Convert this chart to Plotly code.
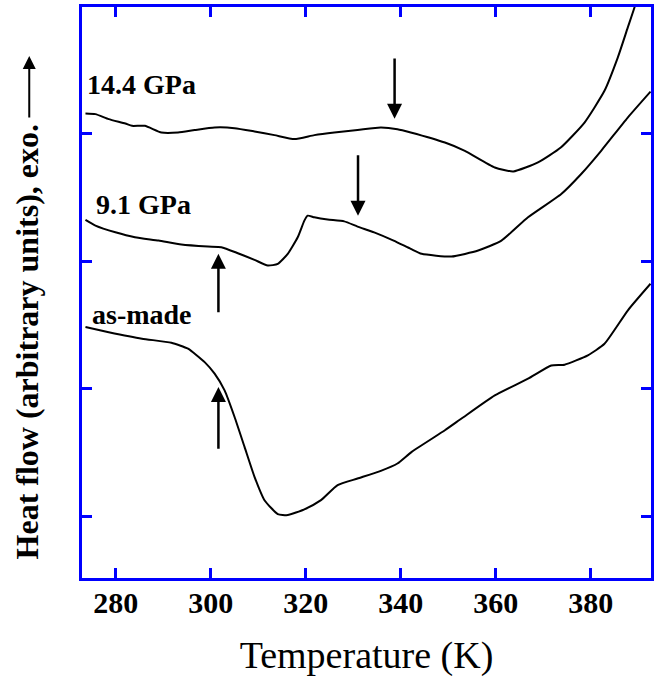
import plotly.graph_objects as go

# Temperature (K) and heat flow (arbitrary units, offset curves)
t_144 = [273.6, 275.7, 278.5, 282.0, 283.4, 286.1, 289.6, 293.1, 296.6, 300.8,
         305.0, 309.2, 313.4, 317.6, 321.8, 326.0, 330.9, 335.8, 339.3, 342.1,
         349.3, 353.5, 359.8, 363.7, 368.9, 373.7, 378.7, 382.9, 385.7, 387.8,
         389.2, 389.9]
hf_144 = [3.161, 3.156, 3.117, 3.082, 3.064, 3.064, 3.012, 3.012, 3.031, 3.051,
          3.046, 3.020, 2.991, 2.960, 2.991, 3.012, 3.031, 3.051, 3.038, 3.012,
          2.933, 2.868, 2.737, 2.706, 2.777, 2.894, 3.090, 3.339, 3.600, 3.835,
          3.991, 4.083]

t_91 = [273.6, 275.7, 279.9, 284.0, 289.0, 293.8, 299.4, 302.2, 305.7, 309.2,
        312.0, 314.1, 316.2, 318.3, 319.7, 320.4, 321.8, 324.6, 328.1, 330.9,
        334.4, 338.5, 342.1, 344.4, 350.7, 356.3, 361.2, 366.8, 373.8, 378.0,
        382.2, 387.8, 392.6]
hf_91 = [2.325, 2.281, 2.228, 2.189, 2.163, 2.132, 2.116, 2.111, 2.064, 2.012,
         1.967, 1.980, 2.059, 2.189, 2.320, 2.359, 2.346, 2.328, 2.314, 2.273,
         2.228, 2.163, 2.098, 2.059, 2.038, 2.085, 2.163, 2.346, 2.529, 2.686,
         2.868, 3.129, 3.333]

t_asm = [273.6, 278.5, 285.5, 291.7, 295.2, 298.7, 300.8, 302.9, 305.0, 307.1,
         309.2, 311.3, 314.1, 316.2, 319.7, 323.2, 326.7, 330.9, 335.8, 339.3,
         342.3, 349.3, 352.8, 359.8, 366.8, 371.7, 374.5, 379.4, 382.9, 387.8,
         392.6]
hf_asm = [1.484, 1.444, 1.393, 1.361, 1.314, 1.209, 1.118, 0.987, 0.778, 0.543,
          0.308, 0.125, 0.016, 0.008, 0.053, 0.125, 0.243, 0.295, 0.355, 0.413,
          0.504, 0.674, 0.766, 0.948, 1.079, 1.183, 1.189, 1.262, 1.353, 1.614,
          1.824]

# transition arrows: (temperature, tip value, tail value)
arrow_t = [338.7, 331.0, 301.6, 301.6]
arrow_tip = [3.119, 2.359, 2.059, 1.013]
arrow_tail = [3.605, 2.845, 1.589, 0.517]

x_ticks = [280, 300, 320, 340, 360, 380]
y_ticks = [0, 1, 2, 3]

BLUE = "#0000ff"
SERIF = "Liberation Serif, Times New Roman, serif"

fig = go.Figure()
for t, h, name in [(t_144, hf_144, "14.4 GPa"), (t_91, hf_91, "9.1 GPa"),
                   (t_asm, hf_asm, "as-made")]:
    fig.add_trace(go.Scatter(x=t, y=h, mode="lines", name=name,
                             line=dict(color="black", width=2,
                                       shape="spline", smoothing=0.5),
                             showlegend=False))

annotations = []
for t, tip, tail in zip(arrow_t, arrow_tip, arrow_tail):
    annotations.append(dict(x=t, y=tip, ax=t, ay=tail, xref="x", yref="y",
                            axref="x", ayref="y", text="", showarrow=True,
                            arrowhead=2, arrowsize=1.2, arrowwidth=2.5,
                            arrowcolor="black"))

label_font = dict(family=SERIF, size=28, color="black", weight="bold")
annotations += [
    dict(x=273.6, y=3.39, xref="x", yref="y", text="<b>14.4 GPa</b>",
         showarrow=False, xanchor="left", yanchor="middle", font=label_font),
    dict(x=275.4, y=2.445, xref="x", yref="y", text="<b>9.1 GPa</b>",
         showarrow=False, xanchor="left", yanchor="middle", font=label_font),
    dict(x=274.5, y=1.585, xref="x", yref="y", text="<b>as-made</b>",
         showarrow=False, xanchor="left", yanchor="middle", font=label_font),
    dict(x=-0.0962, y=0.413, xref="paper", yref="paper",
         text="<b>Heat flow (arbitrary units), exo.</b>", textangle=-90,
         showarrow=False, xanchor="center", yanchor="middle",
         font=dict(family=SERIF, size=32, color="black")),
    dict(x=-0.0927, y=0.9143, xref="paper", yref="paper", text="",
         showarrow=True, ax=0, ay=63, arrowhead=2, arrowsize=1.3,
         arrowwidth=2, arrowcolor="black"),
]

fig.update_layout(
    width=658, height=677,
    margin=dict(l=82, r=4, t=6, b=99),
    paper_bgcolor="white", plot_bgcolor="white",
    annotations=annotations,
    xaxis=dict(range=[272.87, 392.7], tickvals=x_ticks,
               ticktext=[str(v) for v in x_ticks],
               ticks="inside", ticklen=10, tickwidth=3, tickcolor=BLUE,
               showline=True, linecolor=BLUE, linewidth=3, mirror="ticks",
               showgrid=False, zeroline=False, ticklabelstandoff=-4,
               tickfont=dict(family=SERIF, size=30, color="black", weight="bold"),
               title=dict(text="Temperature (K)", standoff=24,
                          font=dict(family=SERIF, size=38, color="black"))),
    yaxis=dict(range=[-0.486, 3.997], tickvals=y_ticks, showticklabels=False,
               ticks="inside", ticklen=10, tickwidth=3, tickcolor=BLUE,
               showline=True, linecolor=BLUE, linewidth=3, mirror="ticks",
               showgrid=False, zeroline=False),
)

fig.write_html("out.html")
